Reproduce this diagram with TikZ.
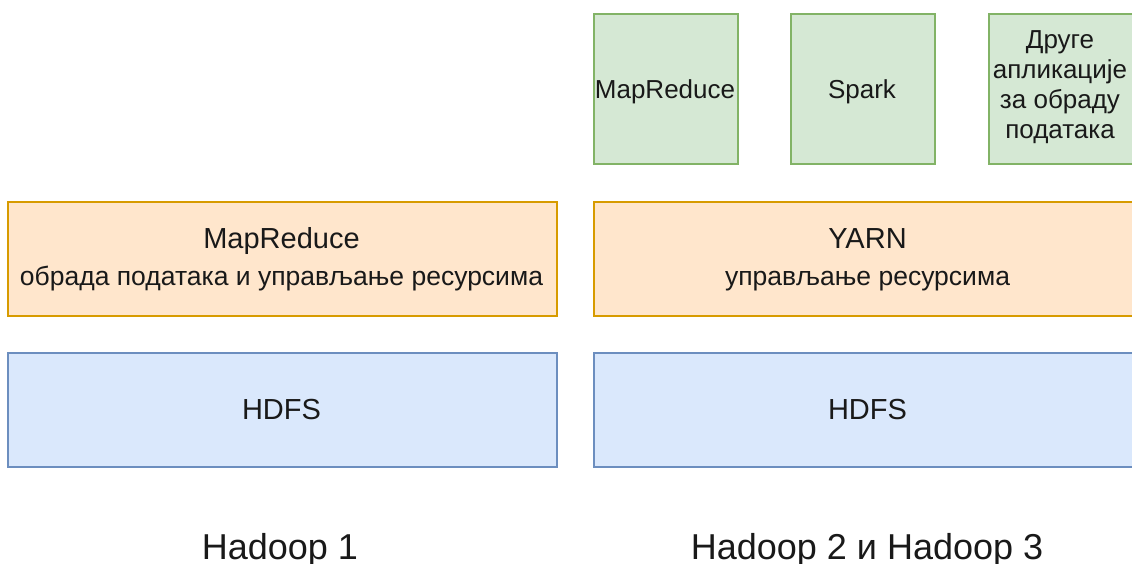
\documentclass[tikz,border=0pt]{standalone}
\usepackage{fontspec}
\setmainfont{Liberation Sans}
\definecolor{gfill}{HTML}{D5E8D4}
\definecolor{gdraw}{HTML}{82B366}
\definecolor{ofill}{HTML}{FFE6CC}
\definecolor{odraw}{HTML}{D79B00}
\definecolor{bfill}{HTML}{DAE8FC}
\definecolor{bdraw}{HTML}{6C8EBF}
\tikzset{
 box/.style={rectangle, anchor=north west, inner sep=0pt, line width=2pt},
 greenbox/.style={box, fill=gfill, draw=gdraw, minimum width=144pt, minimum height=150pt},
 orangebox/.style={box, fill=ofill, draw=odraw, minimum width=549pt, minimum height=114pt},
 bluebox/.style={box, fill=bfill, draw=bdraw, minimum width=549pt, minimum height=114pt},
 lbl/.style={anchor=base, inner sep=0pt, text=black!90},
 titletext/.style={lbl, font=\fontsize{29}{34}\selectfont},
 subtext/.style={lbl, font=\fontsize{26.5}{31}\selectfont},
 apptext/.style={lbl, font=\fontsize{26}{30}\selectfont},
 captiontext/.style={lbl, font=\fontsize{36}{42}\selectfont},
}
\begin{document}
\begin{tikzpicture}[x=1pt,y=-1pt]
\useasboundingbox (0,0) rectangle (1132,563);
\clip (0,0) rectangle (1132,563);
% top application boxes
\node[greenbox] (g1) at (593,13) {};
\node[greenbox] (g2) at (790,13) {};
\node[greenbox] (g3) at (988,13) {};
\node[apptext] (g1t) at (665,98) {MapReduce};
\node[apptext] (g2t) at (862,98) {Spark};
\node[apptext] (g3a) at (1060,48) {Друге};
\node[apptext] (g3b) at (1060,78) {апликације};
\node[apptext] (g3c) at (1060,108) {за обраду};
\node[apptext] (g3d) at (1060,138) {података};
% orange layer
\node[orangebox] (o1) at (7,201) {};
\node[orangebox] (o2) at (593,201) {};
\node[titletext] (o1t) at (281.5,248) {MapReduce};
\node[subtext] (o1s) at (281.5,285) {обрада података и управљање ресурсима};
\node[titletext] (o2t) at (867.5,248) {YARN};
\node[subtext] (o2s) at (867.5,285) {управљање ресурсима};
% blue layer
\node[bluebox] (b1) at (7,352) {};
\node[bluebox] (b2) at (593,352) {};
\node[titletext] (b1t) at (281.5,419) {HDFS};
\node[titletext] (b2t) at (867.5,419) {HDFS};
% captions
\node[captiontext] (c1) at (280,559) {Hadoop 1};
\node[captiontext] (c2) at (867,559) {Hadoop 2 и Hadoop 3};
\end{tikzpicture}
\end{document}
